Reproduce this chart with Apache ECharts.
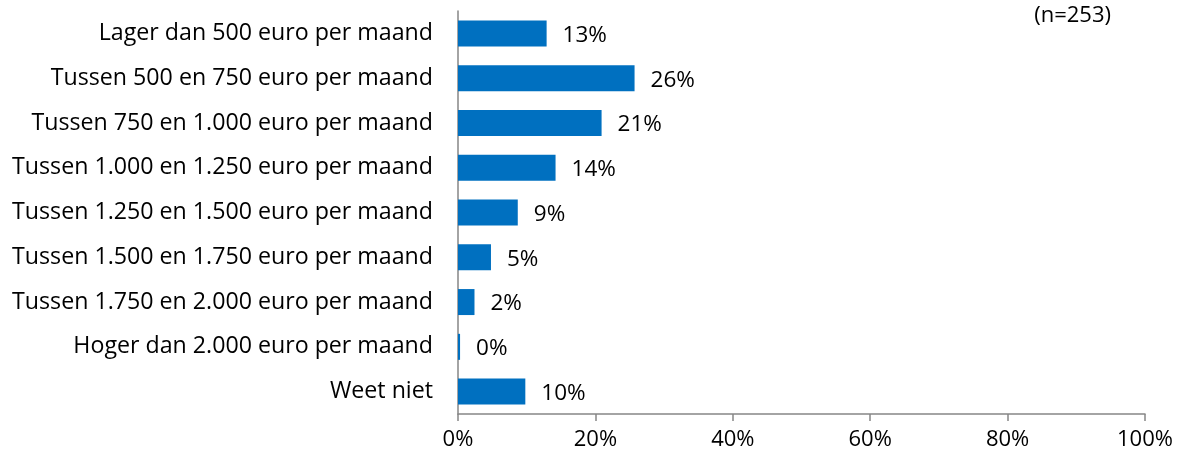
<!DOCTYPE html>
<html><head><meta charset="utf-8">
<script src="https://cdn.jsdelivr.net/npm/echarts@6/dist/echarts.min.js"></script>
<style>html,body{margin:0;padding:0;background:#fff}#c{width:1181px;height:464px}</style>
</head><body><div id="c"></div>
<script>
const categories = [
  "Lager dan 500 euro per maand",
  "Tussen 500 en 750 euro per maand",
  "Tussen 750 en 1.000 euro per maand",
  "Tussen 1.000 en 1.250 euro per maand",
  "Tussen 1.250 en 1.500 euro per maand",
  "Tussen 1.500 en 1.750 euro per maand",
  "Tussen 1.750 en 2.000 euro per maand",
  "Hoger dan 2.000 euro per maand",
  "Weet niet"
];
const values = [12.9, 25.7, 20.9, 14.2, 8.7, 4.8, 2.4, 0.3, 9.8];
const valueLabels = ["13%", "26%", "21%", "14%", "9%", "5%", "2%", "0%", "10%"];
const xTicks = [0, 20, 40, 60, 80, 100];
const note = "(n=253)";

const FONT = "Open Sans";
const chart = echarts.init(document.getElementById('c'));
chart.setOption({
  animation: false,
  textStyle: {fontFamily: FONT},
  grid: {left: 458, right: 36, top: 11, bottom: 50, containLabel: false},
  graphic: [{type: 'text', right: 70, top: 5, style: {text: note, font: '22px "' + FONT + '"', fill: '#000'}}],
  xAxis: {
    type: 'value', min: xTicks[0], max: xTicks[xTicks.length - 1], interval: 20,
    axisLine: {show: true, lineStyle: {color: '#868686', width: 1.5}},
    axisTick: {show: true, length: 7, lineStyle: {color: '#868686', width: 1.5}},
    splitLine: {show: false},
    axisLabel: {formatter: v => v + '%', color: '#000', fontSize: 22, margin: 15, fontFamily: FONT}
  },
  yAxis: {
    type: 'category', data: categories, inverse: true,
    axisLine: {show: true, lineStyle: {color: '#868686', width: 1.5}},
    axisTick: {show: false},
    axisLabel: {color: '#000', fontSize: 23.2, margin: 25, fontFamily: FONT}
  },
  series: [{
    type: 'bar', data: values, barWidth: 26,
    itemStyle: {color: '#0070C0'},
    label: {show: true, position: 'right', distance: 16, offset: [0, 2], color: '#000', fontSize: 22.5, fontFamily: FONT,
      formatter: p => valueLabels[p.dataIndex]}
  }]
});
</script></body></html>
